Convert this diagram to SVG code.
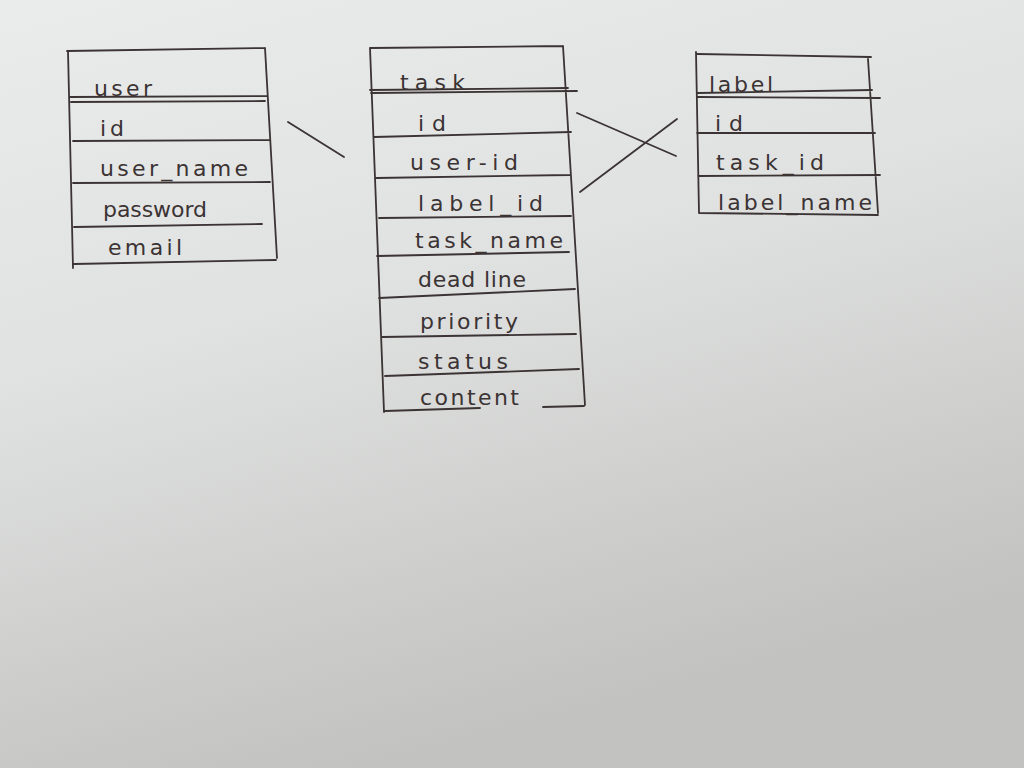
<svg xmlns="http://www.w3.org/2000/svg" width="1024" height="768" viewBox="0 0 1024 768">
<defs>
<linearGradient id="paper" x1="0" y1="0" x2="0.35" y2="1">
<stop offset="0" stop-color="#eaeceb"/>
<stop offset="0.45" stop-color="#e0e2e1"/>
<stop offset="1" stop-color="#c2c2c0"/>
</linearGradient>
<style>
.ln{fill:none;stroke:#3b3334;stroke-width:1.8;stroke-linecap:round;stroke-linejoin:round}
.t{font-family:"DejaVu Sans","Liberation Sans",sans-serif;font-size:22px;fill:#3b3334}
</style>
</defs>
<rect width="1024" height="768" fill="url(#paper)"/>
<g id="user">
<path class="ln" d="M67,51 L265,48 M68,51 L73,268 M265,48 L277,258 M69,97 L267,96 M71,102 L265,101 M73,141 L270,140 M73,183 L270,182 M74,227 L262,224 M74,264 L276,260"/>
<text class="t" x="94" y="96" textLength="58">user</text>
<text class="t" x="100" y="136" textLength="24">id</text>
<text class="t" x="100" y="176" textLength="148">user_name</text>
<text class="t" x="103" y="217" textLength="104">password</text>
<text class="t" x="108" y="255" textLength="74">email</text>
</g>
<g id="task">
<path class="ln" d="M370,48 L563,46 M370,48 L384,412 M563,46 L585,405 M370,90 L568,88 M371,93 L577,91 M374,137 L571,132 M376,178 L570,175 M379,218 L571,216 M377,256 L569,252 M379,298 L575,289 M382,337 L576,334 M385,376 L579,369 M385,411 L480,408 M543,407 L584,406"/>
<text class="t" x="400" y="90" textLength="65">task</text>
<text class="t" x="418" y="131" textLength="28">id</text>
<text class="t" x="410" y="170" textLength="108">user-id</text>
<text class="t" x="418" y="211" textLength="125">label_id</text>
<text class="t" x="415" y="248" textLength="148">task_name</text>
<text class="t" x="418" y="287" textLength="108">dead line</text>
<text class="t" x="420" y="329" textLength="98">priority</text>
<text class="t" x="418" y="369" textLength="90">status</text>
<text class="t" x="420" y="405" textLength="99">content</text>
</g>
<g id="label">
<path class="ln" d="M697,54 L871,57 M696,52 L699,213 M868,59 L878,213 M698,93 L872,90 M698,97 L880,98 M697,133 L875,133 M698,176 L880,175 M699,213 L878,215"/>
<text class="t" x="709" y="92" textLength="64">label</text>
<text class="t" x="715" y="131" textLength="28">id</text>
<text class="t" x="716" y="170" textLength="108">task_id</text>
<text class="t" x="718" y="210" textLength="154">label_name</text>
</g>
<g id="connectors">
<path class="ln" d="M288,122 L344,157 M577,113 L676,156 M580,192 L677,119"/>
</g>
</svg>
